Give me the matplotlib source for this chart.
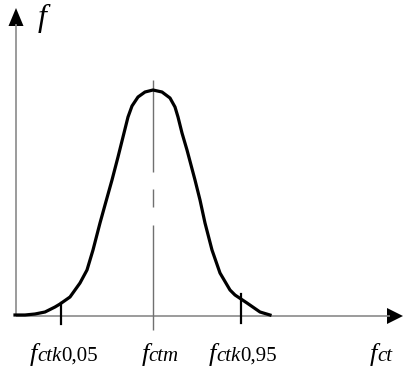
import matplotlib
matplotlib.use("Agg")
import matplotlib.pyplot as plt

plt.rcParams['font.family'] = ['Liberation Serif', 'DejaVu Serif']

# Curve (pixel-like units, y grows downward)
curve_x = [15, 25, 35, 45, 55, 60, 70, 80, 87, 93, 100, 105, 112, 118, 124,
           128, 132, 138, 145, 153, 162, 170, 175, 178, 182, 187, 195, 200,
           205, 212, 220, 230, 235, 247, 260, 270]
curve_y = [315, 315, 314, 312, 307, 304, 297, 283, 270, 250, 223, 205, 180,
           157, 133, 117, 106, 97, 92, 90, 92, 98, 107, 117, 133, 150, 180,
           200, 223, 250, 273, 290, 295, 303, 312, 315]

tick_x = [61, 153, 241]
# label pieces: (main, italic subscript, upright subscript)
tick_labels = [('f', 'ctk', '0,05'), ('f', 'ctm', ''), ('f', 'ctk', '0,95')]
xlabel = ('f', 'ct', '')
ylabel = 'f'

fig = plt.figure(figsize=(4.03, 3.67), dpi=100)
ax = fig.add_axes([0, 0, 1, 1])
ax.set_xlim(0, 403)
ax.set_ylim(367, 0)
ax.axis('off')

axis_col = '#8a8a8a'
x0, y0 = 16, 316
# axes lines
ax.plot([x0, x0], [y0, 24], color=axis_col, lw=1.2, solid_capstyle='butt')
ax.plot([x0, 390], [y0, y0], color=axis_col, lw=1.2, solid_capstyle='butt')
# arrow heads
ax.fill([x0 - 7.5, x0 + 7.5, x0], [26, 26, 8], color='black', lw=0)
ax.fill([387, 387, 403], [y0 - 8, y0 + 8, y0], color='black', lw=0)

# center dashed line
for a, b in [(80, 172), (189, 207), (225, 330)]:
    ax.plot([tick_x[1], tick_x[1]], [a, b], color='#707070', lw=1.0,
            solid_capstyle='butt')

# ticks
ax.plot([tick_x[0], tick_x[0]], [303, 324], color='black', lw=1.6)
ax.plot([tick_x[2], tick_x[2]], [294, 323], color='black', lw=1.6)

# curve
ax.plot(curve_x, curve_y, color='black', lw=2.3, solid_joinstyle='round')


def compound(xc, parts, baseline=361):
    main, sub_it, sub_up = parts
    specs = [(main, 'italic', 19), (sub_it, 'italic', 15), (sub_up, 'normal', 15)]
    texts = [ax.text(0, baseline, s, fontsize=fs, style=st, va='baseline',
                     ha='left') for s, st, fs in specs if s]
    fig.canvas.draw()
    r = fig.canvas.get_renderer()
    widths = [t.get_window_extent(r).width for t in texts]
    x = xc - sum(widths) / 2
    for t, w in zip(texts, widths):
        t.set_x(x)
        x += w


for xc, lab in zip([64, 160, 243], tick_labels):
    compound(xc, lab)
compound(381, xlabel)
ax.text(42, 26, ylabel, fontsize=23, style='italic', ha='center', va='baseline')

fig.savefig('out.png', dpi=100)
